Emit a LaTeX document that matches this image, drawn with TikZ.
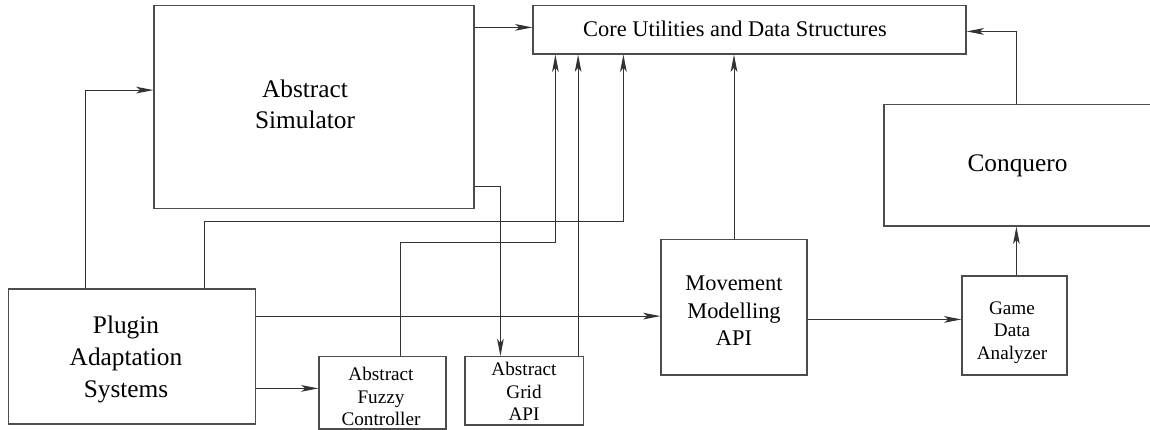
\documentclass[tikz,border=0pt]{standalone}
\usepackage{fontspec}
\setmainfont{Liberation Serif}
\usetikzlibrary{arrows.meta,calc}

\begin{document}
\begin{tikzpicture}[x=0.75pt,y=-0.75pt,
  box/.style={draw=black!70, line width=0.9pt, inner sep=0pt},
  lbl/.style={align=center, inner sep=0pt},
  big/.style={font=\fontsize{19}{23.5}\selectfont},
  mid/.style={font=\fontsize{16.8}{20.6}\selectfont},
  small/.style={font=\fontsize{14.4}{16.9}\selectfont},
  link/.style={draw=black!80, line width=0.75pt},
  arr/.style={link, -{Stealth[length=13pt,width=5pt,inset=3.2pt]}}
]
% page frame
\clip (0,0) rectangle (1150,429);
\fill[white] (0,0) rectangle (1150,429);

% boxes
\node[box, minimum width=240pt, minimum height=152.25pt] (sim) at (314,106.8) {};
\node[box, minimum width=324.75pt, minimum height=36.5pt] (core) at (749.5,29.65) {};
\node[box, minimum width=201pt, minimum height=91pt] (conq) at (1018,165.35) {};
\node[box, minimum width=185.25pt, minimum height=101.25pt] (plugin) at (132,356.5) {};
\node[box, minimum width=95.25pt, minimum height=54.2pt] (fuzzy) at (382.5,392.85) {};
\node[box, minimum width=88.7pt, minimum height=51.2pt] (grid) at (524.15,390.85) {};
\node[box, minimum width=109.5pt, minimum height=101.6pt] (move) at (734,307.25) {};
\node[box, minimum width=78.75pt, minimum height=74.25pt] (game) at (1014.5,325.5) {};

% labels
\node[lbl,big] (simtxt) at (305,104.5) {Abstract\\Simulator};
\node[lbl,mid] (coretxt) at (735,29) {Core Utilities and Data Structures};
\node[lbl,big] (conqtxt) at (1017.5,166) {Conquero};
\node[lbl,big,font=\fontsize{19}{24}\selectfont] (plugintxt) at (126,359.5) {Plugin\\Adaptation\\Systems};
\node[lbl,small] (fuzzytxt) at (381,396.7) {Abstract\\Fuzzy\\Controller};
\node[lbl,small] (gridtxt) at (524,391.7) {Abstract\\Grid\\API};
\node[lbl,mid] (movetxt) at (734,311) {Movement\\Modelling\\API};
\node[lbl,small] (gametxt) at (1012,332.5) {Game\\Data\\Analyzer};

% connectors
\draw[arr] ($(sim.north east)+(0,22.7)$) coordinate (a1) -- (a1 -| core.west);
\draw[arr] ($(plugin.north west)+(77.6,0)$) |- ($(sim.north west)+(0,85.4)$);
\draw[arr] ($(sim.south east)+(0,-22.6)$) -| ($(grid.north west)+(36,0)$);
\draw[arr] ($(plugin.north west)+(196.6,0)$) -- ++(0,-67.3) -| ($(core.south west)+(91,0)$);
\draw[arr] ($(fuzzy.north west)+(82.3,0)$) -- ++(0,-113.4) -| ($(core.south west)+(23,0)$);
\draw[arr] ($(grid.north west)+(113.7,0)$) coordinate (a6) -- (a6 |- core.south);
\draw[arr] (move.north) -- (move.north |- core.south);
\draw[arr] ($(plugin.north east)+(0,27.7)$) coordinate (a8) -- (a8 -| move.west);
\draw[arr] ($(plugin.north east)+(0,100)$) coordinate (a9) -- (a9 -| fuzzy.west);
\draw[arr] ($(move.north east)+(0,80.5)$) coordinate (a10) -- (a10 -| game.west);
\draw[arr] ($(game.north west)+(55,0)$) coordinate (a11) -- (a11 |- conq.south);
\draw[arr] ($(conq.north west)+(133,0)$) |- ($(core.north east)+(0,26.7)$);
\end{tikzpicture}
\end{document}
